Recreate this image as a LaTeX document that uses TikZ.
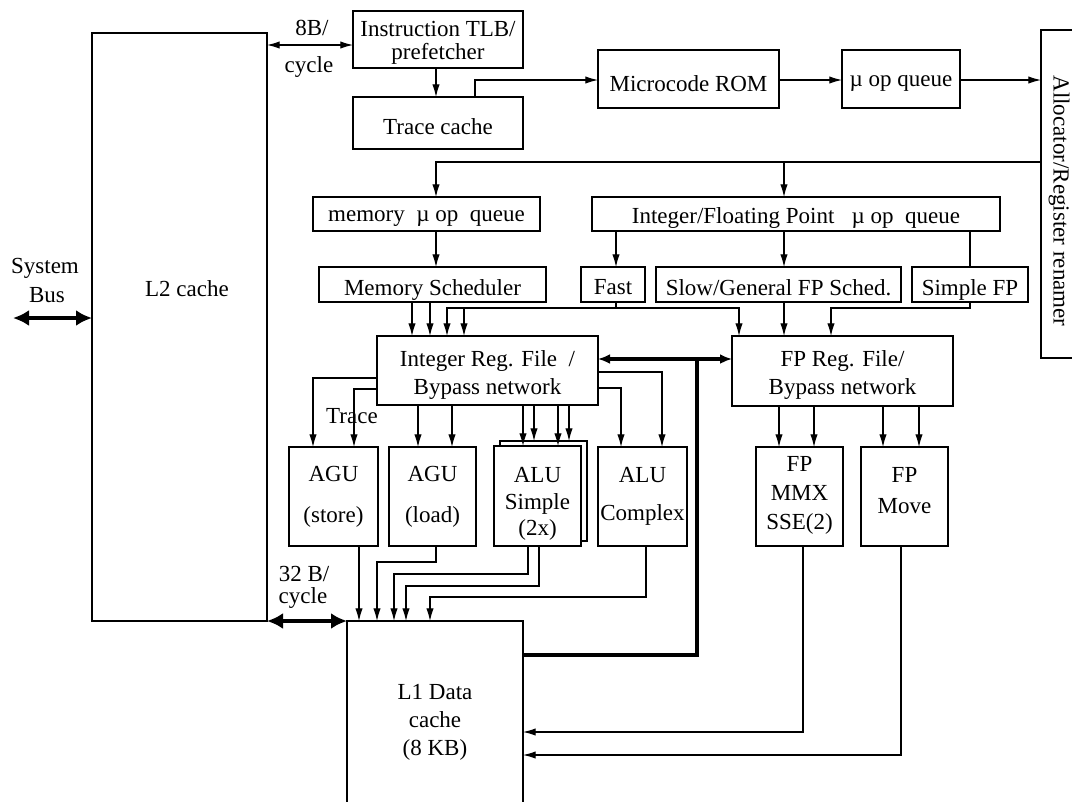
\documentclass[tikz,border=0pt]{standalone}
\usepackage{fontspec}
\setmainfont{Liberation Serif}
\usetikzlibrary{arrows.meta,calc}
\newcommand\bxe[5]{\node[box,minimum width={(#4-#2)*0.75pt},minimum height={(#5-#3)*0.75pt}] (#1) at ({(#2+#4)/2},{(#3+#5)/2}) {};}
\newcommand\bx[7][4]{\bxe{#2}{#3}{#4}{#5}{#6}\node[btext] (#2-t) at ($(#2.center)+(0,#1)$) {#7};}
\begin{document}
\begin{tikzpicture}[x=0.75pt,y=-0.75pt,
  every node/.style={font=\fontsize{17.25}{21}\selectfont},
  box/.style={draw,line width=0.8pt,inner sep=0pt,outer sep=0pt,fill=white},
  btext/.style={align=center,inner sep=0pt},
  wire/.style={line width=0.8pt},
  arr/.style={wire,-{Latex[length=9.5pt,width=5.5pt]}},
  darr/.style={wire,{Latex[length=9.5pt,width=5.5pt]}-{Latex[length=9.5pt,width=5.5pt]}},
  bus/.style={line width=3.2pt,{Latex[length=12pt,width=12pt]}-{Latex[length=12pt,width=12pt]}},
  fat/.style={line width=2.8pt},
  fatarr/.style={line width=2.8pt,-{Latex[length=9pt,width=7.5pt]}}
]
\useasboundingbox (0,0) rectangle (1072,801);
\clip (0,0) rectangle (1072,801);
\fill[white] (0,0) rectangle (1072,801);

% ---------- boxes ----------
\bxe{l2}{92}{33}{267}{621}
\bx[3.5]{itlb}{353}{11}{523}{68}{Instruction TLB/\\[-4pt]prefetcher}
\bx{trace}{353}{97}{523}{149}{Trace cache}
\bx[5]{mrom}{598}{50}{779}{108}{Microcode ROM}
\bx{uq}{842}{50}{960}{108}{µ op queue}
\bxe{alloc}{1041}{30}{1090}{358}
\bx{mq}{313}{197}{540}{231}{memory\ \ µ op\ \ queue}
\bx{ifq}{592}{197}{1000}{231}{Integer/Floating Point\ \ \ µ op\ \ queue}
\bx[5]{ms}{319}{267}{546}{302}{Memory Scheduler}
\bx[3]{fast}{581}{267}{645}{302}{Fast}
\bx[3]{slow}{656}{267}{901}{302}{Slow/General FP Sched.}
\bx[5]{sfp}{912}{267}{1028}{302}{Simple FP}
\bx{irf}{377}{336}{598}{405}{Integer Reg. File\ \ /\\Bypass network}
\bx{frf}{732}{336}{953}{406}{FP Reg. File/\\Bypass network}
\bx[0]{agus}{289}{447}{378}{546}{AGU\\[9.5pt](store)}
\bx[0]{agul}{389}{447}{476}{546}{AGU\\[9.5pt](load)}
\bxe{alusb}{500}{441}{587}{541}
\bx[8]{alus}{494}{446}{581}{546}{ALU\\[-1pt]Simple\\[-1pt](2x)}
\bx[0]{aluc}{598}{447}{687}{546}{ALU\\[8pt]Complex}
\bx[-1]{fmmx}{756}{447}{843}{546}{FP\\[1pt]MMX\\[1pt]SSE(2)}
\bx[-6]{fmov}{861}{447}{948}{546}{FP\\[2pt]Move}
\bx[2]{l1}{347}{621}{523}{819}{L1 Data\\cache\\(8 KB)}

% ---------- free texts ----------
\node[anchor=base] (t8b) at (312,35) {8B/};
\node[anchor=base] (tcyc1) at (309,72) {cycle};
\node[anchor=base] (tsys) at (45,273) {System};
\node[anchor=base] (tbus) at (47,302) {Bus};
\node[anchor=base] (tl2) at (187,296) {L2 cache};
\node[anchor=base] (ttrace) at (352,423) {Trace};
\node[anchor=base] (t32) at (304,581) {32 B/};
\node[anchor=base] (tcyc2) at (303,603) {cycle};
\node[rotate=-90] (tall) at (1059,201) {Allocator/Register renamer};

% ---------- front end ----------
\path ($(itlb.west)+(0,5.5)$) coordinate (a8);
\draw[darr] (l2.east |- a8) -- (a8);
\draw[arr] ($(itlb.south west)+(83,0)$) coordinate (t) -- (t |- trace.north);
\draw[arr] ($(trace.north west)+(122,0)$) |- ($(mrom.west)+(0,1)$);
\draw[arr] ($(mrom.east)+(0,1)$) -- ($(uq.west)+(0,1)$);
\draw[arr] ($(uq.east)+(0,1)$) coordinate (t) -- (t -| alloc.west);

% ---------- allocator to queues ----------
\path ($(alloc.west)+(0,-32)$) coordinate (r);
\draw[arr] (r) -| ($(mq.north west)+(123,0)$);
\path ($(ifq.north west)+(192,0)$) coordinate (t);
\draw[arr] (t |- r) -- (t);

% ---------- queues to schedulers ----------
\draw[arr] ($(mq.south west)+(123,0)$) coordinate (t) -- (t |- ms.north);
\draw[arr] ($(ifq.south west)+(24,0)$) coordinate (t) -- (t |- fast.north);
\draw[arr] ($(ifq.south west)+(192,0)$) coordinate (t) -- (t |- slow.north);
\draw[wire] ($(ifq.south west)+(378,0)$) coordinate (t) -- (t |- sfp.north);

% ---------- schedulers to register files ----------
\path ($(irf.north west)+(35,0)$) coordinate (t);
\draw[arr] (t |- ms.south) -- (t);
\path ($(irf.north west)+(53,0)$) coordinate (t);
\draw[arr] (t |- ms.south) -- (t);
\draw[wire] ($(fast.south west)+(35,0)$) -- ++(0,6) coordinate (fj);
\draw[arr] (fj) -| ($(irf.north west)+(70,0)$);
\path ($(irf.north west)+(87,0)$) coordinate (t);
\draw[arr] (t |- fj) -- (t);
\draw[arr] (fj) -| ($(frf.north west)+(7,0)$);
\draw[arr] ($(slow.south west)+(128,0)$) coordinate (t) -- (t |- frf.north);
\draw[arr] ($(sfp.south west)+(58,0)$) -- ++(0,6) -| ($(frf.north west)+(99,0)$);

% ---------- integer register file to units ----------
\draw[arr] ($(irf.west)+(0,7.5)$) -| ($(agus.north west)+(24,0)$);
\draw[arr] ($(irf.west)+(0,18.5)$) -| ($(agus.north west)+(65,0)$);
\path ($(agul.north west)+(29,0)$) coordinate (t);
\draw[arr] (t |- irf.south) -- (t);
\path ($(agul.north west)+(63,0)$) coordinate (t);
\draw[arr] (t |- irf.south) -- (t);
\path ($(alus.north west)+(29,0)$) coordinate (t);
\draw[arr] (t |- irf.south) -- (t);
\path ($(alusb.north west)+(34,0)$) coordinate (t);
\draw[arr] (t |- irf.south) -- (t);
\path ($(alus.north west)+(64,0)$) coordinate (t);
\draw[arr] (t |- irf.south) -- (t);
\path ($(alusb.north west)+(69,0)$) coordinate (t);
\draw[arr] (t |- irf.south) -- (t);
\draw[arr] ($(irf.east)+(0,1.5)$) -| ($(aluc.north west)+(64,0)$);
\draw[arr] ($(irf.east)+(0,17.5)$) -| ($(aluc.north west)+(23,0)$);

% ---------- FP register file to units ----------
\path ($(fmmx.north west)+(23,0)$) coordinate (t);
\draw[arr] (t |- frf.south) -- (t);
\path ($(fmmx.north west)+(58,0)$) coordinate (t);
\draw[arr] (t |- frf.south) -- (t);
\path ($(fmov.north west)+(22,0)$) coordinate (t);
\draw[arr] (t |- frf.south) -- (t);
\path ($(fmov.north west)+(58,0)$) coordinate (t);
\draw[arr] (t |- frf.south) -- (t);

% ---------- units to L1 ----------
\draw[arr] ($(agus.south west)+(70,0)$) coordinate (t) -- (t |- l1.north);
\draw[arr] ($(agul.south west)+(47,0)$) -- ++(0,16) -| ($(l1.north west)+(30,0)$);
\draw[arr] ($(alus.south west)+(34,0)$) -- ++(0,28) -| ($(l1.north west)+(47,0)$);
\draw[arr] ($(alus.south west)+(45,0)$) -- ++(0,40) -| ($(l1.north west)+(59,0)$);
\draw[arr] ($(aluc.south west)+(48,0)$) -- ++(0,51) -| ($(l1.north west)+(83,0)$);
\draw[arr] ($(fmmx.south west)+(47,0)$) |- ($(l1.north east)+(0,111)$);
\draw[arr] ($(fmov.south west)+(40,0)$) |- ($(l1.north east)+(0,134)$);

% ---------- thick data paths ----------
\draw[fat] ($(l1.north east)+(0,34)$) -| ($(irf.east)+(99,-11.5)$) coordinate (j);
\draw[fatarr] (j) -- (j -| irf.east);
\draw[fatarr] (j) -- (j -| frf.west);
\coordinate (sb) at (13,318);
\draw[bus] (sb) -- (sb -| l2.west);
\draw[bus] (l2.south east) -- (l1.north west);
\end{tikzpicture}
\end{document}
